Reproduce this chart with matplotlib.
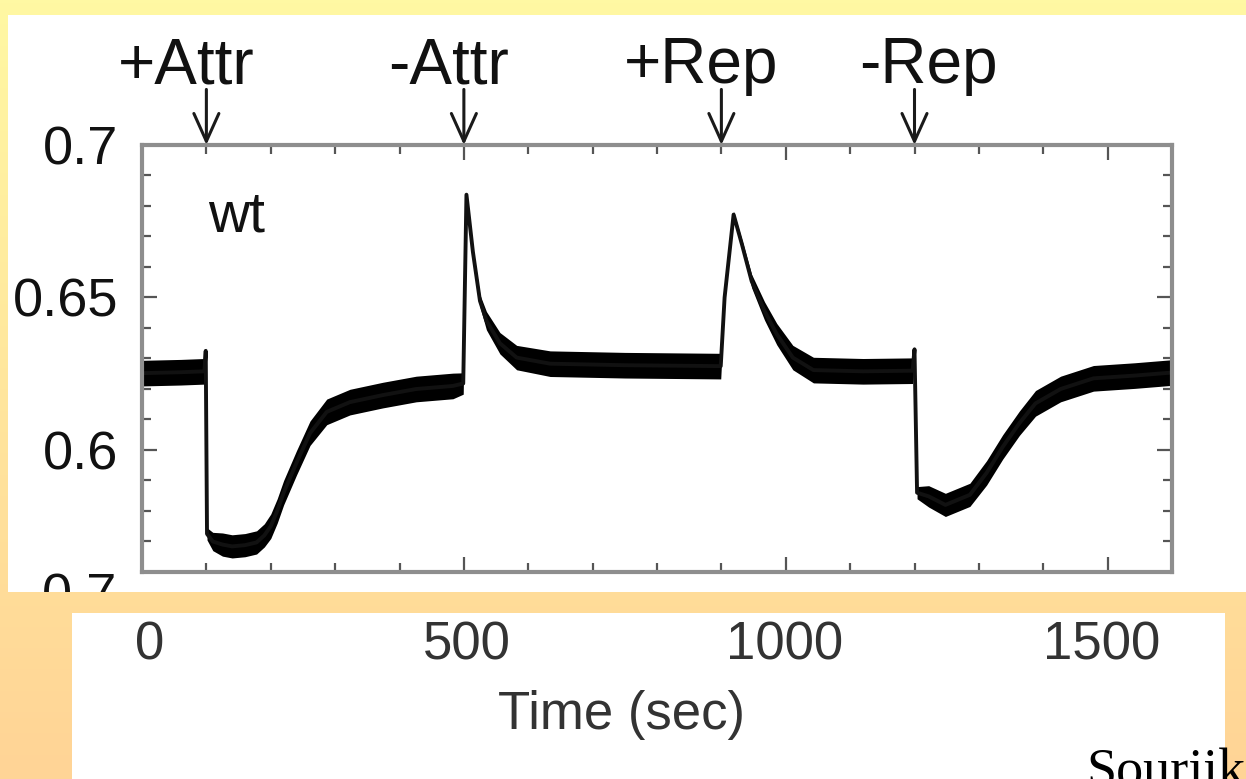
import numpy as np
import matplotlib
matplotlib.use("Agg")
import matplotlib.pyplot as plt
from matplotlib.patches import Rectangle
from matplotlib.transforms import Bbox, TransformedBbox
from matplotlib.ticker import MultipleLocator, FixedLocator

# ---------------- data ----------------
time_s = [0, 60, 97, 99, 101, 110, 125, 140, 160, 178, 190, 200, 210, 220, 240,
          261, 287, 323, 374, 426, 483, 499, 504, 514, 525, 535, 556, 582, 634,
          750, 899, 905, 919, 932, 947, 967, 986, 1011, 1043, 1120, 1197, 1200,
          1204, 1222, 1248, 1286, 1312, 1337, 1363, 1388, 1427, 1478, 1542, 1600]
ratio = [0.6252, 0.6255, 0.6258, 0.6325, 0.5725, 0.5700, 0.5690, 0.5684, 0.5688,
         0.5697, 0.5720, 0.5750, 0.5800, 0.5860, 0.5958, 0.6055, 0.6125, 0.6157,
         0.6180, 0.6200, 0.6210, 0.6218, 0.6837, 0.6650, 0.6489, 0.6424, 0.6350,
         0.6303, 0.6283, 0.6278, 0.6275, 0.6500, 0.6772, 0.6674, 0.6554, 0.6456,
         0.6380, 0.6303, 0.6262, 0.6258, 0.6260, 0.6330, 0.5860, 0.5848, 0.5820,
         0.5853, 0.5925, 0.6010, 0.6088, 0.6153, 0.6200, 0.6235, 0.6244, 0.6254]
noise_halfwidth = [0.0042, 0.0042, 0.0042, 0.001, 0.002, 0.003, 0.0038, 0.0038, 0.0038,
                   0.0038, 0.0038, 0.004, 0.004, 0.004, 0.004, 0.004, 0.0042, 0.0042,
                   0.0042, 0.0042, 0.0042, 0.0035, 0.001, 0.0015, 0.002, 0.003, 0.0035,
                   0.004, 0.0042, 0.0042, 0.0042, 0.0015, 0.001, 0.0015, 0.0022, 0.003,
                   0.0035, 0.004, 0.0042, 0.0042, 0.0042, 0.001, 0.002, 0.0035, 0.0038,
                   0.0038, 0.004, 0.004, 0.004, 0.0042, 0.0042, 0.0042, 0.0042, 0.0042]

event_times = [100, 500, 900, 1200]
event_labels = ["+Attr", "-Attr", "+Rep", "-Rep"]

y_ticks = [0.6, 0.65, 0.7]
y_tick_labels = ["0.6", "0.65", "0.7"]
x_ticks = [0, 500, 1000, 1500]
x_tick_labels = ["0", "500", "1000", "1500"]
x_label = "Time (sec)"
strain_label = "wt"
credit = "Sourjik"

# ---------------- figure ----------------
W, H = 1246, 779
fig = plt.figure(figsize=(W / 100, H / 100), dpi=100)
SANS = ["Liberation Sans", "DejaVu Sans"]
SERIF = ["Liberation Serif", "DejaVu Serif"]

def fx(px):
    return px / W

def fy(py):
    return 1 - py / H

# background gradient (yellow -> orange)
bg = fig.add_axes([0, 0, 1, 1], zorder=-10)
top_c = np.array([255, 248, 163]) / 255
bot_c = np.array([255, 212, 150]) / 255
g = np.linspace(0, 1, 256)[:, None]
img = top_c[None, None, :] * (1 - g[:, :, None]) + bot_c[None, None, :] * g[:, :, None]
img = np.repeat(img, 2, axis=1)
bg.imshow(img, aspect="auto", extent=[0, 1, 0, 1])
bg.set_axis_off()

# white panels
fig.patches.append(Rectangle((fx(8), fy(592)), fx(W - 8), fy(15) - fy(592),
                             transform=fig.transFigure, facecolor="white",
                             edgecolor="none", zorder=-5))
fig.patches.append(Rectangle((fx(72), fy(779)), fx(1225 - 72), fy(613) - fy(779),
                             transform=fig.transFigure, facecolor="white",
                             edgecolor="none", zorder=-5))

# ---------------- main plot ----------------
ax = fig.add_axes([fx(142), fy(572), fx(1172 - 142), fy(145) - fy(572)])
ax.set_facecolor("white")
t = np.array(time_s)
v = np.array(ratio)
w = np.array(noise_halfwidth)
ax.fill_between(t, v - w, v + w, color="black", linewidth=0)
ax.plot(t, v, color="#111111", lw=2.8, solid_joinstyle="round")

ax.set_xlim(0, 1600)
ax.set_ylim(0.56, 0.70)
ax.xaxis.set_major_locator(FixedLocator(x_ticks))
ax.xaxis.set_minor_locator(MultipleLocator(100))
ax.yaxis.set_major_locator(FixedLocator(y_ticks))
ax.yaxis.set_minor_locator(MultipleLocator(0.01))
ax.set_yticklabels(y_tick_labels)
ax.tick_params(axis="both", which="both", direction="in", top=True, right=True,
               color="#555555", width=1.6)
ax.tick_params(which="major", length=11)
ax.tick_params(which="minor", length=6.5)
ax.tick_params(axis="x", labelbottom=False)
ax.tick_params(axis="y", labelsize=39, pad=17)
for lab in ax.get_yticklabels():
    lab.set_family(SANS)
    lab.set_color("#111111")
for s in ax.spines.values():
    s.set_color("#8e8e8e")
    s.set_linewidth(3)

ax.text(102, 0.6717, strain_label, fontsize=41, family=SANS, ha="left",
        va="baseline", color="#111111")

# event arrows and labels
label_dx = [-20, -15, -20, 14]
for et, lab, dx in zip(event_times, event_labels, label_dx):
    ax.annotate("", xy=(et, 0.70), xycoords="data",
                xytext=(0, 40), textcoords="offset points",
                arrowprops=dict(arrowstyle="->,head_length=1.0,head_width=0.45",
                                mutation_scale=20, lw=2.2, color="#1a1a1a",
                                shrinkA=0, shrinkB=0),
                annotation_clip=False)
    ax.annotate(lab, xy=(et, 0.70), xycoords="data",
                xytext=(dx * 0.72, 44.5), textcoords="offset points",
                ha="center", va="baseline", fontsize=46, family=SANS,
                color="#111111", annotation_clip=False)

# stray clipped label at the bottom of the top panel
stray = fig.text(fx(117), fy(598), "0.7", ha="right", va="center", fontsize=39,
                 family=SANS, color="#111111")
stray.set_clip_box(TransformedBbox(Bbox([[0, fy(592)], [1, 1]]), fig.transFigure))
stray.set_clip_on(True)

# ---------------- lower panel: x tick labels and axis title ----------------
ax2 = fig.add_axes([fx(150), fy(621), fx(1165 - 150), 0.0005])
ax2.set_xlim(0, 1600)
ax2.set_xticks(x_ticks)
ax2.set_xticklabels(x_tick_labels)
ax2.set_yticks([])
for s in ax2.spines.values():
    s.set_visible(False)
ax2.patch.set_alpha(0)
ax2.tick_params(axis="x", length=0, pad=0, labelsize=38, labelcolor="#333333")
for lab in ax2.get_xticklabels():
    lab.set_family(SANS)
ax2.set_xlabel(x_label, fontsize=38, family=SANS, color="#333333", labelpad=14)
ax2.xaxis.label.set_x((621 - 150) / (1165 - 150))

fig.text(fx(1086), fy(786), credit, ha="left", va="baseline", fontsize=39,
         family=SERIF, color="black")

fig.savefig("out.png", dpi=100)
